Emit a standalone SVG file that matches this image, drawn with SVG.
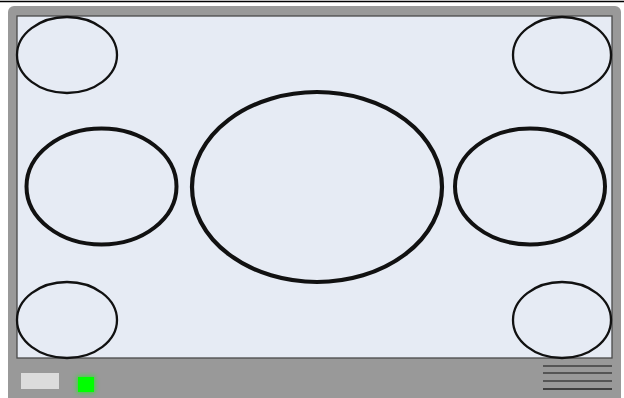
<svg xmlns="http://www.w3.org/2000/svg" width="624" height="398" viewBox="0 0 624 398">
<style>
.small{fill:none;stroke:#111;stroke-width:2.3}
.mid{fill:none;stroke:#111;stroke-width:4}
.big{fill:none;stroke:#111;stroke-width:4.2}
.vent{stroke:#555;stroke-width:2}
</style>
<defs>
<filter id="glow" x="-60%" y="-60%" width="220%" height="220%"><feGaussianBlur stdDeviation="2.5"/></filter>
</defs>
<rect width="624" height="398" fill="#ffffff"/>
<line x1="0" y1="1.5" x2="624" y2="1.5" stroke="#000" stroke-width="1.5"/>
<g id="frame">
<rect x="8" y="6" width="613" height="400" rx="6" fill="#999999"/>
<rect x="17" y="16" width="595" height="342" fill="#e6ebf4" stroke="#4a4a4a" stroke-width="1.3"/>
</g>
<g id="ellipse-top-left"><ellipse class="small" cx="67" cy="55" rx="50" ry="38"/></g>
<g id="ellipse-top-right"><ellipse class="small" cx="562" cy="55" rx="49" ry="38"/></g>
<g id="ellipse-bottom-left"><ellipse class="small" cx="67" cy="320" rx="50" ry="38"/></g>
<g id="ellipse-bottom-right"><ellipse class="small" cx="562" cy="320" rx="49" ry="38"/></g>
<g id="ellipse-mid-left"><ellipse class="mid" cx="101.5" cy="186.5" rx="75" ry="58"/></g>
<g id="ellipse-mid-right"><ellipse class="mid" cx="530" cy="186.5" rx="75" ry="58"/></g>
<g id="ellipse-center"><ellipse class="big" cx="317" cy="187" rx="125" ry="95"/></g>
<g id="button"><rect x="21" y="373" width="38" height="16" fill="#dcdcdc"/></g>
<g id="led">
<rect x="77" y="376" width="18" height="17" fill="#00ff00" filter="url(#glow)" opacity="0.6"/>
<rect x="78" y="377" width="16" height="15" fill="#00ff00"/>
</g>
<g id="vent">
<line class="vent" x1="543" y1="366" x2="612" y2="366"/>
<line class="vent" x1="543" y1="373" x2="612" y2="373"/>
<line class="vent" x1="543" y1="381" x2="612" y2="381"/>
<line x1="543" y1="389" x2="612" y2="389" stroke="#222" stroke-width="1.5"/>
</g>
</svg>
